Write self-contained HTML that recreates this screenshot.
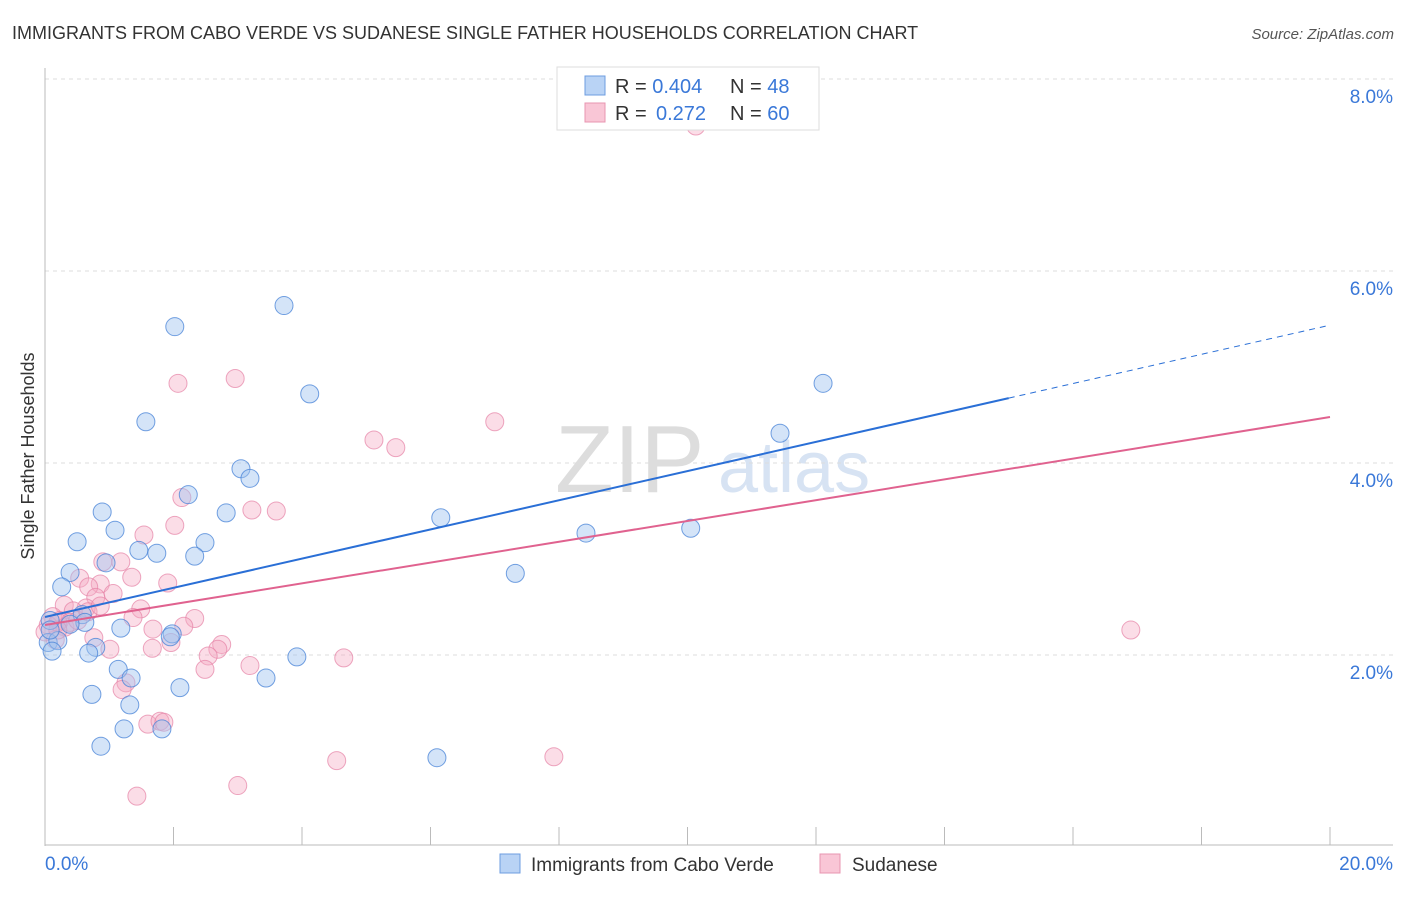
<!DOCTYPE html>
<html><head><meta charset="utf-8"><style>
body{margin:0;background:#fff;font-family:"Liberation Sans",sans-serif}
svg text{font-family:"Liberation Sans",sans-serif}
</style></head><body>
<svg id="chart" width="1406" height="892">
<text x="12" y="39" font-size="18" fill="#333">IMMIGRANTS FROM CABO VERDE VS SUDANESE SINGLE FATHER HOUSEHOLDS CORRELATION CHART</text>
<text x="1394" y="39" font-size="15" fill="#555" text-anchor="end" font-style="italic">Source: ZipAtlas.com</text>
<text x="0" y="0" transform="translate(34,456) rotate(-90)" font-size="18" fill="#333" text-anchor="middle">Single Father Households</text>
<text x="555" y="492" font-size="96" fill="#ddd" font-family="Liberation Serif">ZIP</text>
<text x="718" y="492" font-size="72" fill="#d7e3f3">atlas</text>
<g id="grid"></g><g id="pts"></g><g id="lines"></g>
<g>
<rect x="557" y="67" width="262" height="63" fill="#fff" stroke="#ddd"/>
<rect x="585" y="76" width="20" height="19" fill="#b9d3f5" stroke="#6d9de0"/>
<rect x="585" y="103" width="20" height="19" fill="#f9c6d6" stroke="#e895b0"/>
<text x="615" y="93" font-size="20" fill="#333">R = <tspan fill="#3a78d8">0.404</tspan><tspan x="730">N = </tspan><tspan fill="#3a78d8">48</tspan></text>
<text x="615" y="120" font-size="20" fill="#333">R = <tspan fill="#3a78d8" x="656">0.272</tspan><tspan x="730">N = </tspan><tspan fill="#3a78d8">60</tspan></text>
</g>
<g>
<rect x="500" y="854" width="20" height="19" fill="#b9d3f5" stroke="#6d9de0"/>
<text x="531" y="871" font-size="19" fill="#333">Immigrants from Cabo Verde</text>
<rect x="820" y="854" width="20" height="19" fill="#f9c6d6" stroke="#e895b0"/>
<text x="852" y="871" font-size="19" fill="#333">Sudanese</text>
</g>
</svg>
<script>
const blueX=[2.02,3.72,1.57,4.12,3.05,3.19,2.23,0.89,2.82,1.09,0.50,2.49,1.46,1.74,2.33,0.95,0.39,0.26,0.58,0.62,0.39,0.08,0.05,0.20,0.11,1.18,1.98,1.95,0.79,0.68,1.14,1.34,0.73,1.32,2.10,3.44,3.92,1.23,1.82,0.87,6.16,7.32,8.42,10.05,6.10,11.44,12.11,0.08];
const blueY=[5.42,5.64,4.43,4.72,3.94,3.84,3.67,3.49,3.48,3.30,3.18,3.17,3.09,3.06,3.03,2.96,2.86,2.71,2.42,2.34,2.32,2.36,2.13,2.15,2.04,2.28,2.22,2.19,2.08,2.02,1.85,1.76,1.59,1.48,1.66,1.76,1.98,1.23,1.23,1.05,3.43,2.85,3.27,3.32,0.93,4.31,4.83,2.26];
const pinkX=[10.13,2.07,2.96,5.12,5.46,7.00,2.13,3.22,3.60,2.02,1.54,0.90,1.18,0.54,1.35,0.86,1.91,0.68,1.06,0.79,0.30,0.64,1.49,0.44,0.12,1.37,2.33,0.23,0.05,0.31,2.16,1.68,0.76,1.96,1.67,1.01,2.75,2.69,2.54,3.19,2.49,4.65,1.26,1.20,1.60,1.79,1.85,4.54,7.92,3.00,1.43,16.90,0.20,0,0.39,0.51,0.16,0.67,0.86,0.20];
const pinkY=[7.51,4.83,4.88,4.24,4.16,4.43,3.64,3.51,3.50,3.35,3.25,2.97,2.97,2.80,2.81,2.74,2.75,2.71,2.64,2.60,2.52,2.49,2.48,2.46,2.40,2.39,2.38,2.36,2.31,2.29,2.30,2.27,2.18,2.13,2.07,2.06,2.11,2.06,1.99,1.89,1.85,1.97,1.71,1.64,1.28,1.31,1.30,0.90,0.94,0.64,0.53,2.26,2.34,2.24,2.34,2.36,2.16,2.45,2.51,2.26];
const yTicks=[2,4,6,8];
const xTicks=[0,2,4,6,8,10,12,14,16,18,20];
const blueFit=[2.396,0.152], pinkFit=[2.313,0.1083];
const NS='http://www.w3.org/2000/svg';
const sx=v=>45+v*64.25, sy=v=>847-v*96;
function mk(tag,attrs,parent){const e=document.createElementNS(NS,tag);for(const k in attrs)e.setAttribute(k,attrs[k]);parent.appendChild(e);return e;}
const grid=document.getElementById('grid');
yTicks.forEach(t=>{
  const l=mk('line',{x1:45,x2:1393,y1:sy(t),y2:sy(t),stroke:'#ddd','stroke-dasharray':'4,4'},grid);
  
  
  const tx=mk('text',{x:1393,y:sy(t)+24,'font-size':19,fill:'#3a78d8','text-anchor':'end'},grid);
  tx.textContent=t.toFixed(1)+'%';
  
  
});
mk('line',{x1:45,x2:45,y1:68,y2:846,stroke:'#bbb'},grid);
mk('line',{x1:45,x2:1393,y1:845,y2:845,stroke:'#bbb'},grid);
xTicks.forEach(t=>{
  const l=mk('line',{x1:sx(t),x2:sx(t),y1:827,y2:845,stroke:'#bbb'},grid);
  
  
});
[[0,'0.0%',45,'start'],[20,'20.0%',1393,'end']].forEach(a=>{
  const tx=mk('text',{x:a[2],y:870,'font-size':19,fill:'#3a78d8','text-anchor':a[3]},grid);
  tx.textContent=a[1];
  
  
});
const pts=document.getElementById('pts');
pinkX.forEach((x,i)=>{
  const c=mk('circle',{cx:sx(x),cy:sy(pinkY[i]),r:9,fill:'rgba(246,170,195,0.4)',stroke:'rgba(230,130,165,0.7)'},pts);
  
  
});
blueX.forEach((x,i)=>{
  const c=mk('circle',{cx:sx(x),cy:sy(blueY[i]),r:9,fill:'rgba(160,195,240,0.45)',stroke:'rgba(70,130,215,0.75)'},pts);
  
  
});
const lg=document.getElementById('lines');
const bl=mk('line',{x1:sx(0),y1:sy(blueFit[0]),x2:sx(15),y2:sy(blueFit[0]+15*blueFit[1]),stroke:'#2a6fd6','stroke-width':2},lg);


const bd=mk('line',{x1:sx(15),y1:sy(blueFit[0]+15*blueFit[1]),x2:sx(20),y2:sy(blueFit[0]+20*blueFit[1]),stroke:'#2a6fd6','stroke-width':1,'stroke-dasharray':'6,5'},lg);


const pl=mk('line',{x1:sx(0),y1:sy(pinkFit[0]),x2:sx(20),y2:sy(pinkFit[0]+20*pinkFit[1]),stroke:'#e0628f','stroke-width':2},lg);


</script>
</body></html>
